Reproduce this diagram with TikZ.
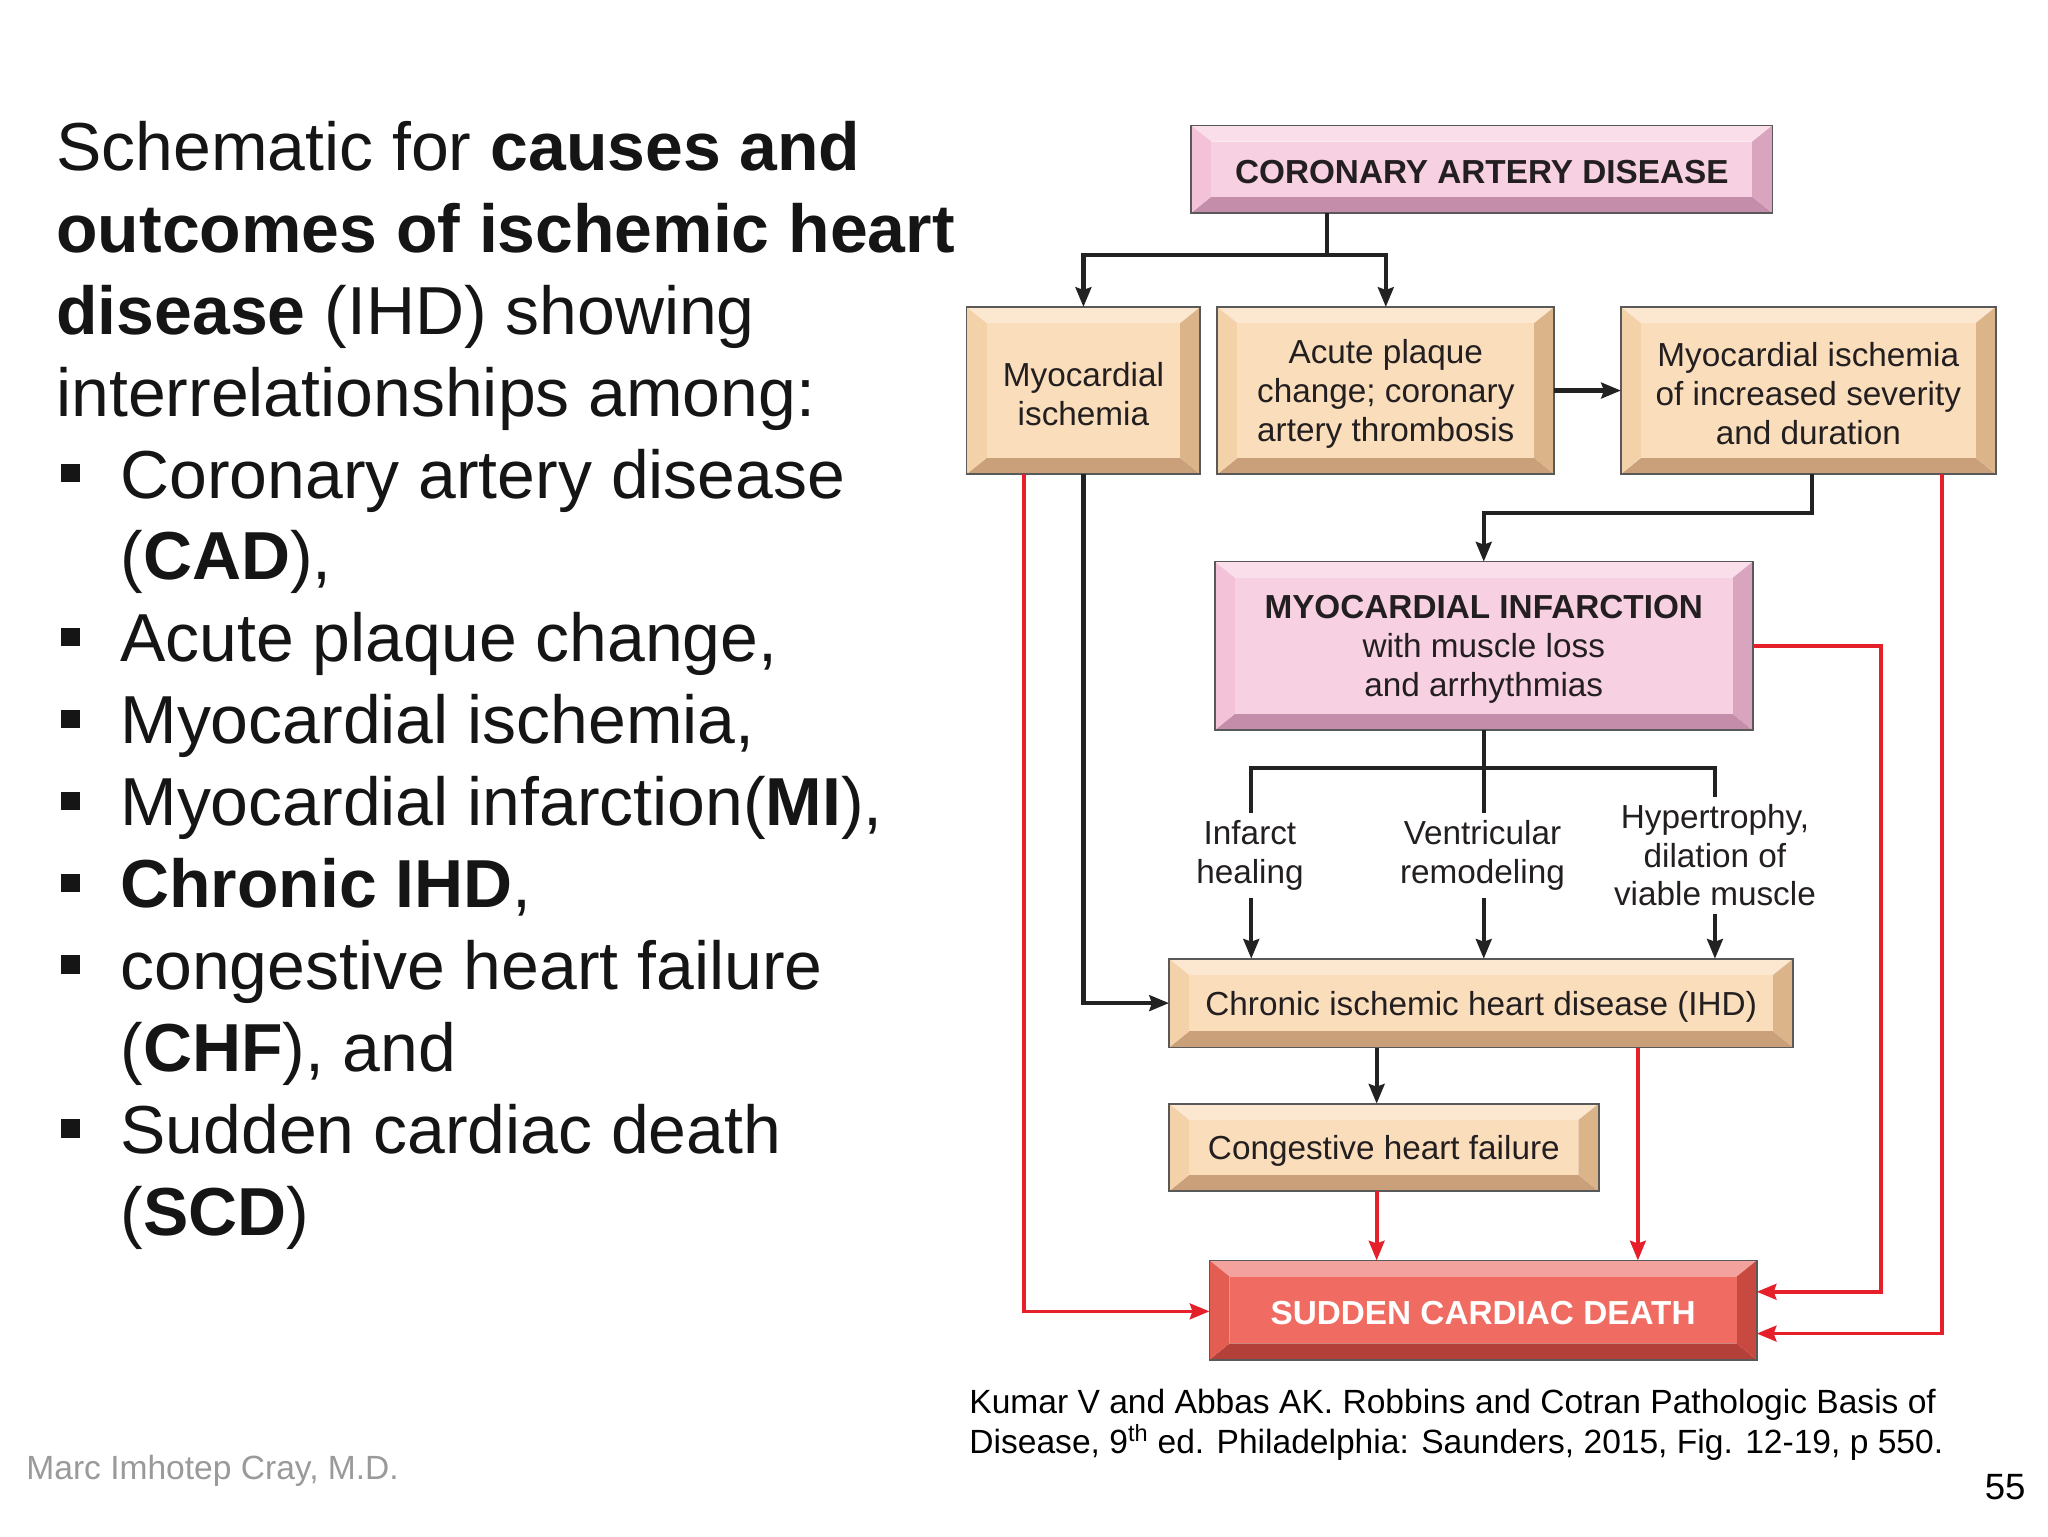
\documentclass[tikz,border=0pt]{standalone}
\usepackage{fontspec}
\setmainfont{Liberation Sans}
\usetikzlibrary{arrows.meta}
\definecolor{txt}{HTML}{151515}
\definecolor{dtxt}{HTML}{231F20}
\definecolor{tanface}{HTML}{FADDBB}
\definecolor{tantop}{HTML}{FCE8D1}
\definecolor{tanlft}{HTML}{F4D2A9}
\definecolor{tanrgt}{HTML}{DCB48A}
\definecolor{tanbot}{HTML}{C9A07A}
\definecolor{pinkface}{HTML}{F7D0E2}
\definecolor{pinktop}{HTML}{FADFEB}
\definecolor{pinklft}{HTML}{F3C2D8}
\definecolor{pinkrgt}{HTML}{D8A4BE}
\definecolor{pinkbot}{HTML}{C48EAA}
\definecolor{redface}{HTML}{F06C62}
\definecolor{redtop}{HTML}{F4A29D}
\definecolor{redlft}{HTML}{E35D52}
\definecolor{redrgt}{HTML}{C8493F}
\definecolor{redbot}{HTML}{B3413A}
\definecolor{lred}{HTML}{E5202B}
\definecolor{lblk}{HTML}{222222}
\definecolor{gtxt}{HTML}{9A9A9A}
\def\bx{15.5}
\def\by{12.5}
\newcommand\bevbox[7]{%
  \fill[#6top] (#2,#3) -- (#4,#3) -- ({#4-\bx},{#3+\by}) -- ({#2+\bx},{#3+\by}) -- cycle;
  \fill[#6bot] (#2,#5) -- (#4,#5) -- ({#4-\bx},{#5-\by}) -- ({#2+\bx},{#5-\by}) -- cycle;
  \fill[#6lft] (#2,#3) -- ({#2+\bx},{#3+\by}) -- ({#2+\bx},{#5-\by}) -- (#2,#5) -- cycle;
  \fill[#6rgt] (#4,#3) -- ({#4-\bx},{#3+\by}) -- ({#4-\bx},{#5-\by}) -- (#4,#5) -- cycle;
  \fill[#6face] ({#2+\bx},{#3+\by}) rectangle ({#4-\bx},{#5-\by});
  \draw[boxline] (#2,#3) rectangle (#4,#5);
  \node[boxshape, minimum width={(#4-#2)*1pt}, minimum height={(#5-#3)*1pt}] (#1) at ({(#2+#4)/2},{(#3+#5)/2}) {};
  \node[boxtext] (#1-t) at ({(#2+#4)/2},{(#3+#5)/2+2.5}) {#7};
}
\begin{document}
\begin{tikzpicture}[x=1pt,y=-1pt,
  lt/.style={anchor=base west, inner sep=0pt, text=txt, font=\fontsize{52}{62}\selectfont},
  bul/.style={fill=txt},
  boxline/.style={draw=black!65, line width=1.3pt},
  boxshape/.style={inner sep=0pt, outer sep=0pt},
  boxtext/.style={inner sep=0pt, outer sep=0pt, align=center, text=dtxt, font=\fontsize{25.5}{30}\selectfont},
  lab/.style={inner sep=6pt, align=center, text=dtxt, font=\fontsize{25.5}{29.5}\selectfont},
  blk/.style={draw=lblk, line width=3.2pt},
  rdl/.style={draw=lred, line width=2.8pt},
  tip/.style={-{Stealth[length=15pt,width=12pt,inset=2pt]}},
  cite/.style={anchor=base west, inner sep=0pt, text=black, font=\fontsize{25.7}{30}\selectfont}
]
\useasboundingbox (0,0) rectangle (1568,1176);
\fill[white] (0,0) rectangle (1568,1176);

% ---------- left text ----------
\node[lt] (t1) at (43,130.5) {Schematic for \textbf{causes and}};
\node[lt] (t2) at (43,193.2) {\textbf{outcomes of ischemic heart}};
\node[lt] (t3) at (43,255.9) {\textbf{disease} (IHD) showing};
\node[lt] (t4) at (43,318.6) {interrelationships among:};
\node[lt] (t5) at (92,381.3) {Coronary artery disease};
\node[lt] (t6) at (92,444) {(\textbf{CAD}),};
\node[lt] (t7) at (92,506.7) {Acute plaque change,};
\node[lt] (t8) at (92,569.4) {Myocardial ischemia,};
\node[lt] (t9) at (92,632.1) {Myocardial infarction(\textbf{MI}),};
\node[lt] (t10) at (92,694.8) {\textbf{Chronic IHD},};
\node[lt] (t11) at (92,757.5) {congestive heart failure};
\node[lt] (t12) at (92,820.2) {(\textbf{CHF}), and};
\node[lt] (t13) at (92,882.9) {Sudden cardiac death};
\node[lt] (t14) at (92,945.6) {(\textbf{SCD})};
\foreach \b in {381.3,506.7,569.4,632.1,694.8,757.5,882.9}
  \fill[bul] (47,\b-26) rectangle (61,\b-12);

% ---------- footer ----------
\node[anchor=base west, inner sep=0pt, text=gtxt, font=\fontsize{25.7}{30}\selectfont] (author) at (20,1133) {Marc Imhotep Cray, M.D.};
\node[anchor=base east, inner sep=0pt, text=black, font=\fontsize{28}{32}\selectfont] (pnum) at (1551,1148) {55};
\node[cite] (c1) at (742,1082) {Kumar V and Abbas AK. Robbins and Cotran Pathologic Basis of};
\node[cite] (c2) at (742,1113) {Disease, 9\textsuperscript{th} ed. Philadelphia: Saunders, 2015, Fig. 12-19, p 550.};

% ---------- boxes ----------
\bevbox{cad}{912}{96}{1357}{163}{pink}{\bfseries CORONARY ARTERY DISEASE}
\bevbox{myo}{740}{235}{919}{363}{tan}{Myocardial\\ischemia}
\bevbox{acute}{932}{235}{1190}{363}{tan}{Acute plaque\\change; coronary\\artery thrombosis}
\bevbox{sev}{1241}{235}{1528}{363}{tan}{Myocardial ischemia\\of increased severity\\and duration}
\bevbox{minf}{930}{430}{1342}{559}{pink}{{\bfseries MYOCARDIAL INFARCTION}\\with muscle loss\\and arrhythmias}
\bevbox{ihd}{895}{734}{1373}{802}{tan}{Chronic ischemic heart disease (IHD)}
\bevbox{chf}{895}{845}{1224}{912}{tan}{Congestive heart failure}
\bevbox{scd}{926}{965}{1345}{1041}{red}{\color{white}\bfseries SUDDEN CARDIAC DEATH}

% ---------- labels ----------
\node[lab] (infh) at (957,655) {Infarct\\healing};
\node[lab] (vrem) at (1135,655) {Ventricular\\remodeling};
\node[lab] (hyp) at (1313,655) {Hypertrophy,\\dilation of\\viable muscle};

% ---------- coordinates ----------
\coordinate (j1) at (1016,195);
\coordinate (j2) at (1387,393);
\coordinate (bj) at (1136,588);
\coordinate (xr1) at (784,1004);
\coordinate (xr2) at (1440,989);
\coordinate (xr3) at (1487,1021);
\coordinate (xc1) at (1054,0);
\coordinate (xc2) at (1254,0);
\coordinate (xi) at (958,0);
\coordinate (xv) at (1136,0);
\coordinate (xh) at (1313,0);

% ---------- black connectors ----------
\draw[blk] (cad.south -| j1) -- (j1);
\draw[blk,tip] (j1) -| (myo.north);
\draw[blk,tip] (j1) -| (acute.north);
\draw[blk,tip] (acute.east) -- (sev.west);
\draw[blk,tip] (sev.south -| j2) -- (j2) -| (minf.north);
\draw[blk,tip] (myo.south) |- (ihd.west);
\draw[blk] (minf.south -| bj) -- (bj);
\draw[blk] (bj) -| (infh.north -| xi);
\draw[blk] (bj) -- (vrem.north -| xv);
\draw[blk] (bj) -| (hyp.north -| xh);
\draw[blk,tip] (infh.south -| xi) -- (ihd.north -| xi);
\draw[blk,tip] (vrem.south -| xv) -- (ihd.north -| xv);
\draw[blk,tip] (hyp.south -| xh) -- (ihd.north -| xh);
\draw[blk,tip] (ihd.south -| xc1) -- (chf.north -| xc1);

% ---------- red connectors ----------
\draw[rdl,tip] (myo.south -| xr1) -- (xr1) -- (scd.west |- xr1);
\draw[rdl,tip] (minf.east) -| (xr2) -- (scd.east |- xr2);
\draw[rdl,tip] (sev.south -| xr3) -- (xr3) -- (scd.east |- xr3);
\draw[rdl,tip] (chf.south -| xc1) -- (scd.north -| xc1);
\draw[rdl,tip] (ihd.south -| xc2) -- (scd.north -| xc2);
\end{tikzpicture}
\end{document}
